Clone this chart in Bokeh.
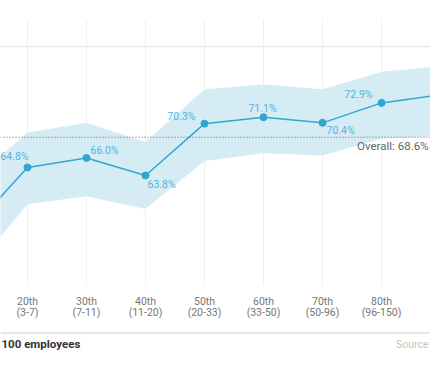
from bokeh.plotting import figure
from bokeh.layouts import column
from bokeh.models import ColumnDataSource, Range1d, FixedTicker, Span, Label
from bokeh.core.properties import value
from bokeh.embed import file_html
from bokeh.resources import INLINE

# ---- data ----
percentiles = ["10th", "20th", "30th", "40th", "50th", "60th", "70th", "80th", "90th"]
size_ranges = ["(1-3)", "(3-7)", "(7-11)", "(11-20)", "(20-33)", "(33-50)", "(50-96)", "(96-150)", "(150-400)"]
rate = [56.7, 64.8, 66.0, 63.8, 70.3, 71.1, 70.4, 72.9, 73.9]
upper = [62.7, 69.2, 70.4, 68.0, 74.6, 75.2, 74.6, 76.8, 77.5]
lower = [51.3, 60.2, 61.2, 59.6, 65.6, 66.6, 66.3, 68.4, 68.8]
overall = 68.6
footer_text = "100 employees"
source_text = "Source"

# label placement (screen offsets / alignment) per point; first and last lie outside the view
show_label = [False, True, True, True, True, True, True, True, False]
lab_dx = [-9, 1, 4, 2, -9, -1, 4, -9, -9]
lab_dy = [-8, -11, -7, 9, -7, -9, 8, -8, -8]
lab_align = ["right", "right", "left", "left", "right", "center", "left", "right", "right"]

idx = list(range(len(percentiles)))
src = ColumnDataSource(dict(
    x=idx, rate=rate, upper=upper, lower=lower,
    lab=[f"{v:.1f}%" if s else "" for v, s in zip(rate, show_label)],
    dx=lab_dx, dy=lab_dy, align=lab_align,
))

BLUE = "#30a6d3"
LABEL_BLUE = "#4fb4dc"
BAND = "#d6ecf4"
FONT = "Roboto"
W = 430

p = figure(width=W, height=331, output_backend="svg", toolbar_location=None,
           x_range=Range1d(0.5425, 7.830), y_range=Range1d(50, 83.36),
           min_border_left=0, min_border_right=0, min_border_top=19, min_border_bottom=46)
p.outline_line_color = None
p.background_fill_color = "white"

# grid
p.xgrid.ticker = FixedTicker(ticks=idx)
p.xgrid.grid_line_color = "#f0f0f0"
p.xgrid.grid_line_width = 1
p.ygrid.ticker = FixedTicker(ticks=[50, 80])
p.ygrid.grid_line_color = "#ebebeb"
p.ygrid.grid_line_width = 1.5
p.yaxis.visible = False

# x axis with two-line labels
xa = p.xaxis[0]
xa.ticker = FixedTicker(ticks=idx)
xa.major_label_overrides = {i: f"{c}\n{r}" for i, c, r in zip(idx, percentiles, size_ranges)}
xa.axis_line_color = None
xa.major_tick_line_color = None
xa.minor_tick_line_color = None
xa.major_label_standoff = 3
xa.major_label_text_line_height = 0.9
xa.major_label_text_font = FONT
xa.major_label_text_font_size = "10.5px"
xa.major_label_text_color = "#777777"

# band, line, points
p.varea(x="x", y1="lower", y2="upper", source=src, fill_color=BAND, fill_alpha=1)
p.line(x="x", y="rate", source=src, line_color=BLUE, line_width=1.5)
p.scatter(x="x", y="rate", source=src, size=7, fill_color=BLUE, line_color=BLUE)

# overall reference line
p.add_layout(Span(location=overall, dimension="width", line_color="#666666",
                  line_dash="1 2", line_width=1))
p.add_layout(Label(x=7.797, y=67.52, text=f"Overall: {overall:.1f}%",
                   text_font=FONT, text_font_size="11.5px", text_color="#666666",
                   text_baseline="middle", text_align="right"))

# data labels
p.text(x="x", y="rate", text="lab", source=src, x_offset="dx", y_offset="dy",
       text_align="align", text_baseline="middle", text_font=value(FONT),
       text_font_size="10.5px", text_color=LABEL_BLUE)

# footer: separator line and notes
f = figure(width=W, height=25, output_backend="svg", toolbar_location=None,
           x_range=Range1d(0, W), y_range=Range1d(25, 0),
           min_border_left=0, min_border_right=0, min_border_top=0, min_border_bottom=0)
f.outline_line_color = None
f.xaxis.visible = False
f.yaxis.visible = False
f.xgrid.visible = False
f.ygrid.visible = False
f.add_layout(Span(location=1.5, dimension="width", line_color="#e6e6e6", line_width=2))
f.add_layout(Label(x=1, y=12.5, text=footer_text, text_font=FONT,
                   text_font_size="11.5px", text_color="#333333", text_font_style="bold",
                   text_align="left", text_baseline="middle"))
f.add_layout(Label(x=428, y=13, text=source_text, text_font=FONT,
                   text_font_size="10.5px", text_color="#c4c4c4",
                   text_align="right", text_baseline="middle"))

layout = column(p, f, spacing=0)
open("out.html", "w").write(file_html(layout, INLINE))
